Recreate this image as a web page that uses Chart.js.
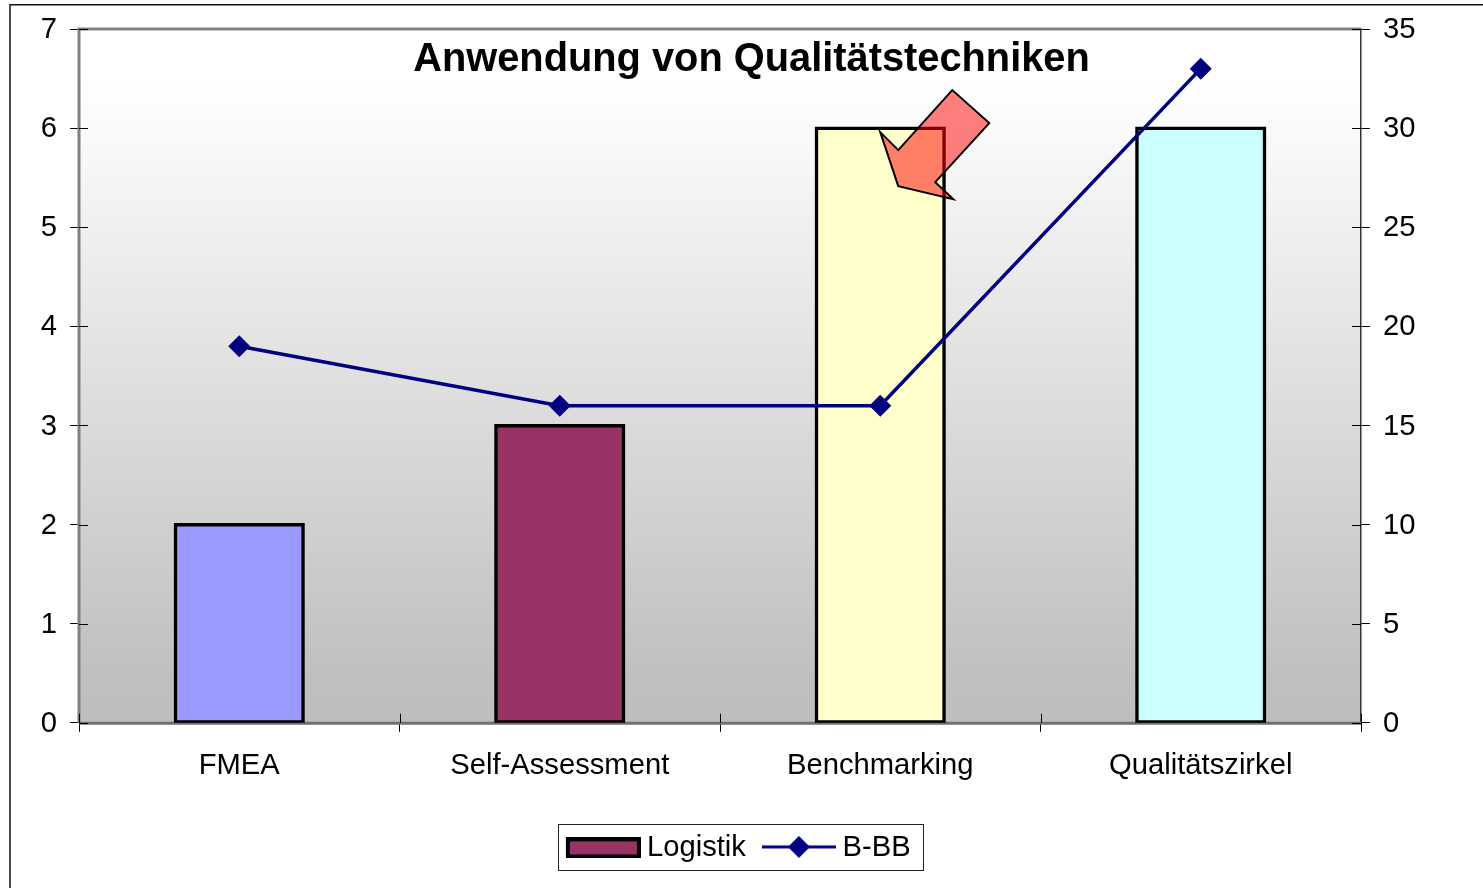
<!DOCTYPE html>
<html>
<head>
<meta charset="utf-8">
<style>
  html, body { margin: 0; padding: 0; background: #fff; }
  #wrap { width: 1483px; height: 888px; }
</style>
<script src="https://cdn.jsdelivr.net/npm/chart.js@4"></script>
</head>
<body>
<div id="wrap"><canvas id="myChart" width="1483" height="888"></canvas></div>
<script>
const categories = ["FMEA", "Self-Assessment", "Benchmarking", "Qualitätszirkel"];
const logistikValues = [2, 3, 6, 6];
const bbbValues = [19, 16, 16, 33];
const barColors = ["#9999FF", "#993366", "#FFFFCC", "#CCFFFF"];
const chartTitle = "Anwendung von Qualitätstechniken";

const fontFamily = "'Liberation Sans', Arial, sans-serif";
const tickFont = { family: fontFamily, size: 29.2 };
const navy = "#000080";

// legend symbols, Chart.js draws these as point styles
function legendBarSymbol() {
  const c = document.createElement("canvas");
  c.width = 77; c.height = 21;
  const g = c.getContext("2d");
  g.fillStyle = "#993366";
  g.fillRect(2, 0, 75, 21);
  g.strokeStyle = "#000";
  g.lineWidth = 4;
  g.strokeRect(4, 2, 71, 17);
  return c;
}

function legendLineSymbol() {
  const c = document.createElement("canvas");
  c.width = 76; c.height = 24;
  const g = c.getContext("2d");
  g.strokeStyle = navy;
  g.lineWidth = 3;
  g.beginPath(); g.moveTo(2, 11); g.lineTo(76, 11); g.stroke();
  g.fillStyle = navy;
  g.beginPath(); g.moveTo(39, 0); g.lineTo(50, 11); g.lineTo(39, 22); g.lineTo(28, 11); g.closePath(); g.fill();
  return c;
}

const backdrop = {
  id: "backdrop",
  beforeDraw(chart) {
    const { ctx, chartArea: a } = chart;
    ctx.save();
    ctx.strokeStyle = "#111";
    ctx.lineWidth = 1.5;
    ctx.beginPath();
    ctx.moveTo(10, 888); ctx.lineTo(10, 4.8); ctx.lineTo(1483, 4.8);
    ctx.stroke();
    const grad = ctx.createLinearGradient(0, a.top, 0, a.bottom);
    grad.addColorStop(0, "#FFFFFF");
    grad.addColorStop(0.08, "#FFFFFF");
    grad.addColorStop(0.93, "#C0C0C0");
    grad.addColorStop(1, "#BEBEBE");
    ctx.fillStyle = grad;
    ctx.fillRect(a.left, a.top, a.width, a.height);
    ctx.restore();
  },
  beforeDatasetsDraw(chart) {
    const { ctx, chartArea: a, scales } = chart;
    ctx.save();
    ctx.strokeStyle = "#808080";
    ctx.lineWidth = 3;
    ctx.beginPath();
    ctx.moveTo(a.left, a.bottom); ctx.lineTo(a.left, a.top); ctx.lineTo(a.right, a.top);
    ctx.stroke();
    ctx.strokeStyle = "#707070";
    ctx.beginPath();
    ctx.moveTo(a.left, a.bottom + 0.5); ctx.lineTo(a.right, a.bottom + 0.5);
    ctx.stroke();
    ctx.strokeStyle = "#000";
    ctx.lineWidth = 1;
    ctx.beginPath();
    // inner half of the crossing ticks
    scales.y.ticks.forEach((t, i) => {
      const p = Math.round(scales.y.getPixelForTick(i)) + 0.5;
      ctx.moveTo(a.left, p); ctx.lineTo(a.left + 9, p);
    });
    scales.y1.ticks.forEach((t, i) => {
      const p = Math.round(scales.y1.getPixelForTick(i)) + 0.5;
      ctx.moveTo(a.right - 9, p); ctx.lineTo(a.right, p);
    });
    for (let i = 0; i <= categories.length; i++) {
      const p = Math.round(a.left + a.width * i / categories.length) + 0.5;
      ctx.moveTo(p, a.bottom - 9); ctx.lineTo(p, a.bottom);
    }
    ctx.stroke();
    ctx.restore();
  },
  afterDatasetsDraw(chart) {
    // callout arrow, placed from the Benchmarking bar top
    const { ctx, scales } = chart;
    const ox = scales.x.getPixelForValue(2);
    const oy = scales.y.getPixelForValue(6);
    const arrow = [[0, 4], [18, 22], [72, -38], [109, -5], [55, 54], [73, 71], [18, 58]];
    ctx.save();
    ctx.beginPath();
    arrow.forEach((p, i) => i ? ctx.lineTo(ox + p[0], oy + p[1]) : ctx.moveTo(ox + p[0], oy + p[1]));
    ctx.closePath();
    ctx.fillStyle = "rgba(255, 0, 0, 0.5)";
    ctx.fill();
    ctx.strokeStyle = "#000";
    ctx.lineWidth = 2;
    ctx.stroke();
    ctx.restore();
  },
  afterDraw(chart) {
    const { ctx } = chart;
    ctx.save();
    ctx.strokeStyle = "#222";
    ctx.lineWidth = 1;
    ctx.strokeRect(558.5, 824.5, 365, 46);
    ctx.restore();
  },
  afterLayout(chart) {
    chart.titleBlock.left += 10;
    chart.titleBlock.right += 10;
  }
};

const ctx = document.getElementById("myChart");
const chart = new Chart(ctx, {
  type: "bar",
  data: {
    labels: categories,
    datasets: [
      {
        type: "line",
        label: "B-BB",
        data: bbbValues,
        yAxisID: "y1",
        borderColor: navy,
        borderWidth: 3.5,
        backgroundColor: navy,
        pointStyle: "rectRot",
        pointRadius: 11,
        pointBorderWidth: 0,
        tension: 0,
        order: 0
      },
      {
        label: "Logistik",
        data: logistikValues,
        yAxisID: "y",
        backgroundColor: barColors,
        borderColor: "#000",
        borderWidth: 3.5,
        borderSkipped: false,
        inflateAmount: 1.5,
        categoryPercentage: 0.4,
        barPercentage: 1,
        order: 1
      }
    ]
  },
  options: {
    responsive: false,
    animation: false,
    layout: { padding: { top: 0, bottom: 15.5, left: 0, right: 0 } },
    plugins: {
      title: {
        display: true,
        text: chartTitle,
        color: "#000",
        font: { family: fontFamily, size: 39.8, weight: "bold" },
        padding: { top: 36, bottom: -54.76 }
      },
      legend: {
        position: "bottom",
        reverse: true,
        labels: {
          color: "#000",
          font: tickFont,
          usePointStyle: true,
          pointStyleWidth: 60,
          boxHeight: 20,
          padding: 22,
          generateLabels: () => [
            { text: "B-BB", pointStyle: legendLineSymbol(), lineWidth: 0, datasetIndex: 0 },
            { text: "Logistik", pointStyle: legendBarSymbol(), lineWidth: 0, datasetIndex: 1 }
          ]
        }
      },
      tooltip: { enabled: false }
    },
    scales: {
      x: {
        grid: { display: true, drawOnChartArea: false, offset: true, color: "#000", tickLength: 9, tickWidth: 1 },
        border: { display: false },
        ticks: { color: "#000", font: tickFont, padding: 17, maxRotation: 0 },
        afterFit(s) { s.height = 88.5; }
      },
      y: {
        position: "left",
        min: 0, max: 7,
        grid: { display: true, drawOnChartArea: false, color: "#000", tickLength: 9 },
        border: { display: false },
        ticks: { stepSize: 1, color: "#000", font: tickFont, padding: 13, labelOffset: 1 },
        afterFit(s) { s.width = 79; s.paddingTop = 0; s.paddingBottom = 0; }
      },
      y1: {
        position: "right",
        min: 0, max: 35,
        grid: { display: true, drawOnChartArea: false, color: "#000", tickLength: 9 },
        border: { display: true, color: "#333", width: 1.5 },
        ticks: { stepSize: 5, color: "#000", font: tickFont, padding: 13, labelOffset: 1 },
        afterFit(s) { s.width = 122; s.paddingTop = 0; s.paddingBottom = 0; }
      }
    }
  },
  plugins: [backdrop]
});
</script>
</body>
</html>
